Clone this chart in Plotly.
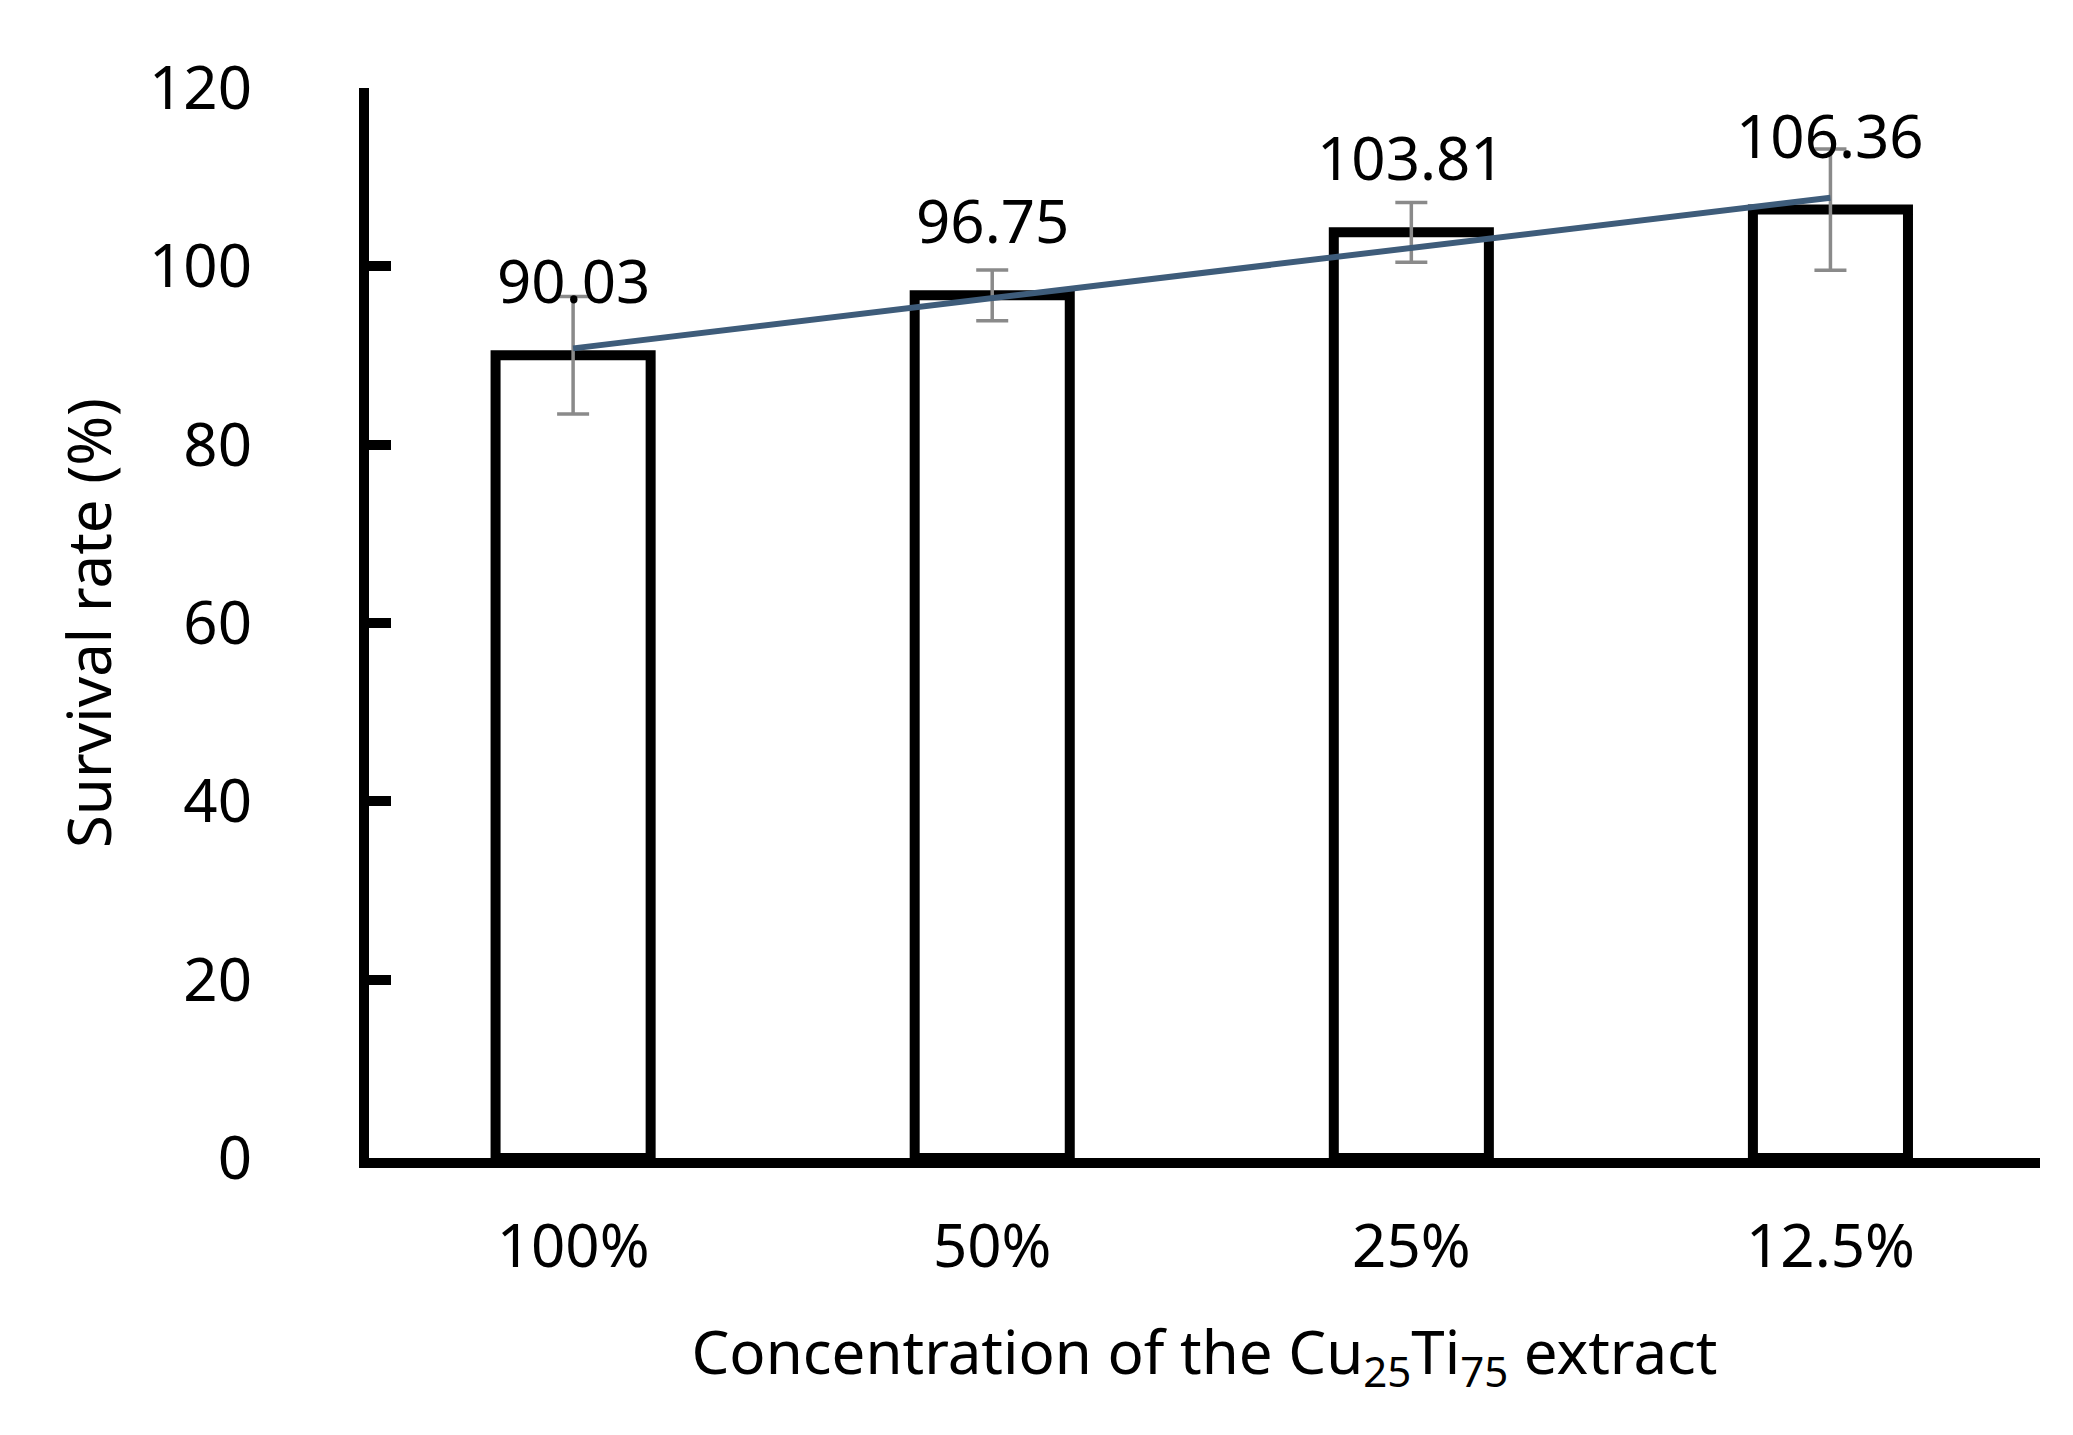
import plotly.graph_objects as go

categories = ["100%", "50%", "25%", "12.5%"]
survival = [90.03, 96.75, 103.81, 106.36]
errors = [6.6, 2.85, 3.35, 6.8]
trend_values = [90.8, 107.7]  # linear trendline read at first and last categories
y_ticks = [0, 20, 40, 60, 80, 100, 120]

FONT = "Noto Sans"
FS = 60
fig = go.Figure()

fig.add_trace(go.Bar(
    x=categories, y=survival, width=0.37,
    marker=dict(color="white", line=dict(color="black", width=10)),
    error_y=dict(type="data", array=errors, visible=True, color="#8a8a8a",
                 thickness=3.5, width=16),
    showlegend=False, hoverinfo="skip",
))

fig.add_trace(go.Scatter(
    x=[categories[0], categories[-1]], y=trend_values, mode="lines",
    line=dict(color="#3e5c7a", width=6), showlegend=False, hoverinfo="skip",
))

for c, v in zip(categories, survival):
    fig.add_annotation(x=c, y=v, text=f"{v:.2f}", showarrow=False,
                       yshift=75, yanchor="middle", xanchor="center",
                       font=dict(family=FONT, size=FS, color="black"))

fig.update_layout(
    width=2073, height=1435,
    margin=dict(l=361, r=41, t=80, b=285),
    paper_bgcolor="white", plot_bgcolor="white",
    font=dict(family=FONT, size=FS, color="black"),
)

fig.update_xaxes(
    type="category", range=[-0.487, 3.5],
    showline=True, linecolor="black", linewidth=10,
    ticks="", showgrid=False, zeroline=False,
    tickfont=dict(family=FONT, size=FS, color="black"),
    ticklabelstandoff=27,
    title=dict(text="Concentration of the Cu<sub>25</sub>Ti<sub>75</sub> extract",
               font=dict(family=FONT, size=FS, color="black"), standoff=52),
)

fig.update_yaxes(
    range=[0, 120], tickvals=y_ticks,
    showline=True, linecolor="black", linewidth=10,
    ticks="inside", ticklen=22, tickwidth=10, tickcolor="black",
    showgrid=False, zeroline=False,
    tickfont=dict(family=FONT, size=FS, color="black"),
    ticklabelstandoff=95,
    title=dict(text="Survival rate (%)",
               font=dict(family=FONT, size=FS, color="black"), standoff=22),
)

fig.write_html("out.html")
